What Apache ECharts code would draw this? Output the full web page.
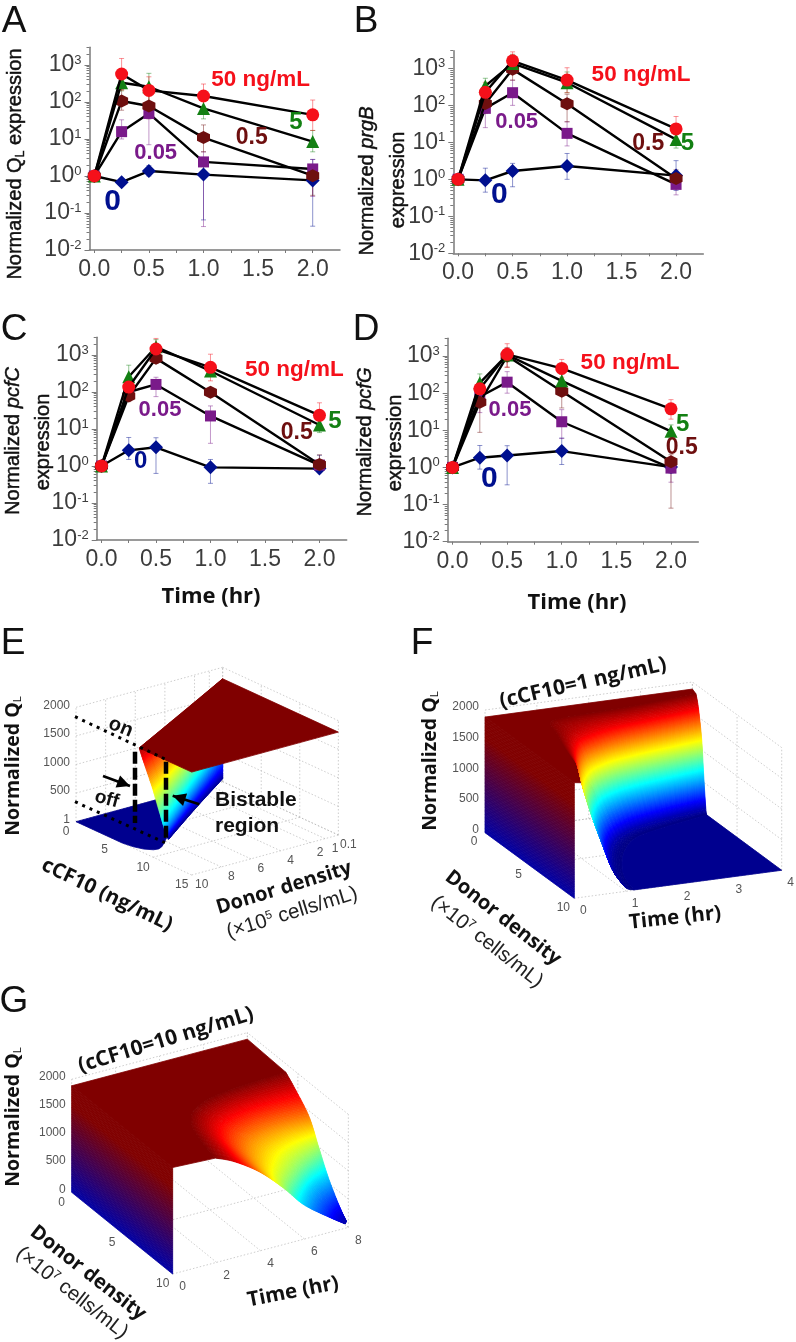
<!DOCTYPE html>
<html><head><meta charset="utf-8">
<style>html,body{margin:0;padding:0;background:#fff}#c{width:796px;height:1342px}</style>
<script src="https://cdn.jsdelivr.net/npm/echarts@6/dist/echarts.min.js"></script>
</head><body><div id="c"></div>
<script>
// ---------- line panels: data ----------
const times=[0,0.25,0.5,1,2];
const yTicks=[0.01,0.1,1,10,100,1000];
const xLabelTicks=[0,0.5,1,1.5,2];
const xTickMarks=[0,0.25,0.5,0.75,1,1.25,1.5,1.75,2];
const yMinorTicks=[0.02,0.03,0.04,0.05,0.06,0.07,0.08,0.09,0.2,0.3,0.4,0.5,0.6,0.7,0.8,0.9,2,3,4,5,6,7,8,9,20,30,40,50,60,70,80,90,200,300,400,500,600,700,800,900,2000,3000];

const A_0=[1,0.68,1.36,1.09,0.76],   A_0_hi=[1.3,null,1.9,2.5,2.8],      A_0_lo=[0.75,null,1,0.065,0.044];
const A_p05=[1,15.8,49,2.4,1.55],    A_p05_hi=[1.3,33,100,4.5,2.8],      A_p05_lo=[0.75,10,7,0.043,0.28];
const A_p5=[1,106,78,10.9,1.02],     A_p5_hi=[1.3,220,180,24,1.5],       A_p5_lo=[0.75,60,35,4.5,0.3];
const A_5=[1,332,258,67,8.5],        A_5_hi=[1.3,500,595,130,17],        A_5_lo=[0.75,200,100,35,4.5];
const A_50=[1,570,206,145,45],       A_50_hi=[1.3,1500,480,306,113],     A_50_lo=[0.75,210,90,70,17];

const B_0=[1,0.94,1.68,2.3,1.26],    B_0_hi=[1.3,2,2.7,5,3.2],           B_0_lo=[0.75,0.45,0.63,1,0.5];
const B_p05=[1,83,220,17.5,0.73],    B_p05_hi=[1.3,180,480,36,1.2],      B_p05_lo=[0.75,25,100,8,0.38];
const B_p5=[1,113,940,111,1.06],     B_p5_hi=[1.3,190,1900,200,1.8],     B_p5_lo=[0.75,60,480,36,0.6];
const B_5=[1,333,1365,410,12],       B_5_hi=[1.3,540,2400,800,20],       B_5_lo=[0.75,200,800,220,7];
const B_50=[1,225,1600,484,23],      B_50_hi=[1.3,420,2800,1040,50],     B_50_lo=[0.75,120,900,220,9.4];

const C_0=[1,2.65,3.2,0.92,0.85],    C_0_hi=[1.3,5.9,5.8,1.5,1.95],      C_0_lo=[0.75,1.5,0.63,0.34,0.7];
const C_p05=[1,100,160,22.5,1.06],   C_p05_hi=[1.3,150,250,42,1.4],      C_p05_lo=[0.75,60,75,4.1,0.8];
const C_p5=[1,78,810,98,1.09],       C_p5_hi=[1.3,110,1100,130,2],       C_p5_lo=[0.75,55,600,75,0.7];
const C_5=[1,258,1670,370,12.8],     C_5_hi=[1.3,530,2600,500,20],       C_5_lo=[0.75,130,1000,270,8];
const C_50=[1,136,1450,465,23.4],    C_50_hi=[1.3,220,2800,1050,51],     C_50_lo=[0.75,85,800,200,11];

const D_0=[1,1.83,2.1,2.76,1.02],    D_0_hi=[1.3,3.9,3.85,6.2,1.4],      D_0_lo=[0.75,0.9,0.34,1.2,0.7];
const D_p05=[1,80,198,17,0.96],      D_p05_hi=[1.3,160,380,36,1.5],      D_p05_lo=[0.75,30,100,6,0.4];
const D_p5=[1,57,1000,113,1.42],     D_p5_hi=[1.3,110,1700,330,2.2],     D_p5_lo=[0.75,8.8,500,40,0.08];
const D_5=[1,190,1070,215,9.4],      D_5_hi=[1.3,330,1500,350,14],       D_5_lo=[0.75,100,700,130,6];
const D_50=[1,131,1110,465,38],      D_50_hi=[1.3,200,2150,810,67],      D_50_lo=[0.75,60,500,270,20];

// ---------- 3D panels: iso-level contours ----------
const ticksEc=[0,5,10,15], ticksEd=[10,8,6,4,2,1,0.1], ticksEz=[1,500,1000,1500,2000];
const E_levels=[1800,1650,1175,600,50];
const E_c=[[8.2,4.1,0],[8.6,4.3,0],[10,5,0],[11.2,6,0],[8.1,3.7,0]];
const E_d=[[10,5,0.1],[10,5,0.1],[10,5,0.1],[9.9,5.4,0.1],[7.97,3.76,0.1]];
const E_topC=[8.2,15,15,0], E_topD=[10,10,0.1,0.1], E_topQ=1800;
const E_offC=[0,3.1,6,7.2,8.1,8.7,8.8,8.6,8.3,7.3,0], E_offD=[10,10,10,9.87,9.65,9.3,9,8.7,8.45,7.7,4.6];

const ticksFt=[0,1,2,3,4], ticksFd=[0,5,10], ticksFz=[0,500,1000,1500,2000];
const F_levels=[1850,1650,1175,600,100,5];
const F_t=[[0.28,0.41,0.65,0.86,0.99,1.3,2,2.7,4],[0.4,0.55,0.85,1.25,1.7,2.2,2.8,3.4,4],[0.51,0.68,1,1.45,1.95,2.4,2.9,3.4,4],[0.68,0.88,1.2,1.65,2.1,2.55,3,3.5,4],[0.95,1.1,1.45,1.85,2.25,2.65,3.1,3.5,4],[1.15,1.3,1.65,2.05,2.4,2.8,3.2,3.6,4]];
const F_d=[[10,8.7,5.4,3.05,1.6,1.2,1.05,0.9,0.4],[10,8,5.2,3,2.1,1.6,1.3,1,0.67],[10,8,5.2,3.2,2.3,1.9,1.6,1.35,1.04],[10,8,5.4,3.5,2.6,2.15,1.85,1.55,1.27],[10,8,5.6,3.9,3,2.5,2.1,1.8,1.5],[10,8,5.8,4.1,3.2,2.7,2.3,1.95,1.6]];
const F_topQ=1885;

const ticksGt=[0,2,4,6,8], ticksGd=[0,5,10], ticksGz=[0,500,1000,1500,2000];
const G_levels=[1850,1700,1400,1000,600,250,80];
const G_t=[[1.95,2.2,2.6,3.3,4.5,6,8],[2.8,3,3.3,3.9,5,6.4,8],[3.95,4.1,4.4,4.9,5.7,6.8,8],[5.05,5.4,5.95,6.5,7,7.5,8],[6,6.25,6.6,6.95,7.3,7.65,8],[7.2,7.3,7.45,7.6,7.75,7.9,8],[7.85,7.87,7.9,7.92,7.95,7.97,8]];
const G_d=[[10,8,6.2,5,4.3,4,3.8],[10,8.3,6.8,5.6,4.95,4.7,4.66],[10,8.8,7.6,6.7,6.2,6,6.1],[10,9.3,8.6,8,7.6,7.3,7.05],[10,9.6,9.1,8.7,8.4,8.2,8],[10,9.85,9.65,9.45,9.3,9.2,9.1],[10,9.97,9.93,9.9,9.87,9.84,9.8]];
const G_topQ=1885;

// ---------- helpers ----------
const SANS='"Liberation Sans",Arial,sans-serif', BOLD3D='"Open Sans",sans-serif';
const COLORS=['#00108f','#7a1a8a','#6e0f0f','#138013','#f5101a'];
const HEX='path://M0,-10 L8.66,-5 L8.66,5 L0,10 L-8.66,5 L-8.66,-5 Z';
const SYMBOLS=['diamond','rect',HEX,'triangle','circle'];
const SIZES=[14,11,13,13,13];
const lin=[
 {left:89.5,top:47.3,width:250.5,height:202.7,sets:[[A_0,A_0_hi,A_0_lo],[A_p05,A_p05_hi,A_p05_lo],[A_p5,A_p5_hi,A_p5_lo],[A_5,A_5_hi,A_5_lo],[A_50,A_50_hi,A_50_lo]]},
 {left:453.3,top:50.7,width:250,height:202.6,sets:[[B_0,B_0_hi,B_0_lo],[B_p05,B_p05_hi,B_p05_lo],[B_p5,B_p5_hi,B_p5_lo],[B_5,B_5_hi,B_5_lo],[B_50,B_50_hi,B_50_lo]]},
 {left:96.7,top:337.3,width:250,height:202.7,sets:[[C_0,C_0_hi,C_0_lo],[C_p05,C_p05_hi,C_p05_lo],[C_p5,C_p5_hi,C_p5_lo],[C_5,C_5_hi,C_5_lo],[C_50,C_50_hi,C_50_lo]]},
 {left:447.7,top:338.3,width:250.6,height:203.4,sets:[[D_0,D_0_hi,D_0_lo],[D_p05,D_p05_hi,D_p05_lo],[D_p5,D_p5_hi,D_p5_lo],[D_5,D_5_hi,D_5_lo],[D_50,D_50_hi,D_50_lo]]}
];
const grid=[],xAxis=[],yAxis=[],series=[];
const AX='#7a7a7a';
lin.forEach((p,i)=>{
  grid.push({left:p.left,top:p.top,width:p.width,height:p.height});
  xAxis.push({type:'value',gridIndex:i,min:-0.044,max:2.25,splitLine:{show:false},
    axisLine:{onZero:false,lineStyle:{color:AX,width:1.5}},
    axisTick:{customValues:xTickMarks,length:3,lineStyle:{color:AX}},
    axisLabel:{customValues:xLabelTicks,margin:8,fontSize:23,fontFamily:SANS,color:'#3c3c3c',formatter:v=>v.toFixed(1)}});
  yAxis.push({type:'log',logBase:10,gridIndex:i,min:0.01,max:3006,splitLine:{show:false},
    axisLine:{onZero:false,lineStyle:{color:AX,width:1.5}},
    axisTick:{customValues:yTicks,length:5,lineStyle:{color:AX}},
    axisLabel:{customValues:yTicks,margin:8,fontFamily:SANS,color:'#3c3c3c',
      formatter:v=>'{a|10}{b|'+Math.round(Math.log10(v))+'}',
      rich:{a:{fontSize:23,fontFamily:SANS,color:'#3c3c3c'},b:{fontSize:13,fontFamily:SANS,color:'#3c3c3c',verticalAlign:'top',padding:[0,0,0,0]}}}});
  yAxis.push({type:'log',logBase:10,gridIndex:i,min:0.01,max:3006,splitLine:{show:false},position:'left',
    axisLine:{show:false,onZero:false},axisLabel:{show:false},
    axisTick:{customValues:yMinorTicks,length:3,lineStyle:{color:AX}}});
  p.sets.forEach((s,k)=>{
    const bars=[];
    times.forEach((t,j)=>{ if(s[1][j]!=null) bars.push([t,s[2][j],s[1][j]]); });
    series.push({type:'custom',xAxisIndex:i,yAxisIndex:i*2,data:bars,z:2,silent:true,animation:false,clip:false,
      encode:{x:0,y:[1,2]},
      renderItem:(ctx,api)=>{
        const a=api.coord([api.value(0),api.value(1)]),b=api.coord([api.value(0),api.value(2)]);
        const st={stroke:COLORS[k],lineWidth:0.9,opacity:0.5,fill:null};
        return {type:'group',children:[
          {type:'line',shape:{x1:a[0],y1:a[1],x2:b[0],y2:b[1]},style:st},
          {type:'line',shape:{x1:a[0]-2.5,y1:a[1],x2:a[0]+2.5,y2:a[1]},style:st},
          {type:'line',shape:{x1:b[0]-2.5,y1:b[1],x2:b[0]+2.5,y2:b[1]},style:st}]};
      }});
  });
  p.sets.forEach((s,k)=>{
    series.push({type:'line',xAxisIndex:i,yAxisIndex:i*2,z:3+k,animation:false,silent:true,clip:false,
      data:times.map((t,j)=>[t,s[0][j]]),
      lineStyle:{color:'#000',width:2.4},symbol:SYMBOLS[k],symbolSize:SIZES[k],
      itemStyle:{color:COLORS[k],borderWidth:0},showSymbol:true});
  });
});

// ---------- 3D ----------
const jet=v=>{const c=x=>Math.round(255*Math.max(0,Math.min(1,x)));
  v=Math.max(0,Math.min(1,v));
  return 'rgb('+c(1.5-Math.abs(4*v-3))+','+c(1.5-Math.abs(4*v-2))+','+c(1.5-Math.abs(4*v-1))+')';};
const wallColor=f=>{const h=Math.min(1,f/0.82),r=Math.round(128*h),b=Math.round(165*(1-h));return 'rgb('+r+',0,'+b+')';};
const pE=(u,v,z)=>[76+7.711*u-14.815*(v-10),821.67+3.556*u+4.04*(v-10)-z*0.05717];
const pF=(u,v,z)=>[485+51.85*u+8.93*v,832.67-7*u+6.56*v-z*0.06133];
const pG=(u,v,z)=>[71.67+21.96*u+10.1*v,1192.3-5.83*u+8.17*v-z*0.0565];
function box(items,P,uT,vT,zT,uW,vW,uF,vF,zM){
  const L=(a,b)=>items.push({k:'l',a,b});
  uT.forEach(u=>{L(P(u,vF,0),P(u,vW,0));L(P(u,vW,0),P(u,vW,zM));});
  vT.forEach(v=>{L(P(uF,v,0),P(uW,v,0));L(P(uW,v,0),P(uW,v,zM));});
  zT.forEach(z=>{L(P(uF,vW,z),P(uW,vW,z));L(P(uW,vF,z),P(uW,vW,z));});
}
// smooth drawing of a contour table between the values
const cr=(a,b,c,d,t)=>0.5*(2*b+(c-a)*t+(2*a-5*b+4*c-d)*t*t+(3*b-a-3*c+d)*t*t*t);
const col=(row,g)=>{const n=row.length-1;let j=Math.min(n-1,Math.floor(g));const t=g-j;
  return cr(row[Math.max(0,j-1)],row[j],row[j+1],row[Math.min(n,j+2)],t);};
const mesh=(A,f,g)=>{const n=A.length-1;let i=Math.min(n-1,Math.floor(f));const t=f-i;
  return cr(col(A[Math.max(0,i-1)],g),col(A[i],g),col(A[i+1],g),col(A[Math.min(n,i+2)],g),t);};
function band(items,P,lev,U,V,norm){
  const n=U[0].length-1,m=lev.length-1,sub=4;
  for(let i=0;i<m;i++){
    const rows=Math.max(2,Math.round(Math.abs(lev[i]-lev[i+1])/14));
    for(let r=0;r<rows;r++){
      const f0=i+r/rows,f1=i+(r+1)/rows;
      const q0=col(lev,f0),q1=col(lev,f1);
      for(let s=n*sub-1;s>=0;s--){
        const g0=s/sub,g1=(s+1)/sub;
        const at=(f,g,q)=>P(mesh(U,f,g),mesh(V,f,g),q);
        items.push({k:'p',pts:[at(f0,g0,q0),at(f0,g1,q0),at(f1,g1,q1),at(f1,g0,q1)],c:jet((q0+q1)/2/norm)});
      }
    }
  }
}
const curve=(P,U,V,i,q)=>{const n=U[0].length-1,out=[];
  for(let s=0;s<=n*5;s++){const g=s/5;out.push(P(col(U[i],g),col(V[i],g),q));}
  return out;};
function wall(items,P,u,v0,v1,zM){
  const rows=48;
  for(let r=0;r<rows;r++){
    const z0=zM*r/rows,z1=zM*(r+1)/rows;
    items.push({k:'p',pts:[P(u,v0,z0),P(u,v1,z0),P(u,v1,z1),P(u,v0,z1)],c:wallColor((r+0.5)/rows)});
  }
}
function labels(items,P,vals,fn,dx,dy,align,txt){
  vals.forEach(v=>{const q=fn(v);items.push({k:'t',x:q[0]+dx,y:q[1]+dy,t:txt?txt(v):String(v),al:align});});
}
const itemsE=[],itemsF=[],itemsG=[];
// panel E
box(itemsE,pE,ticksEc,ticksEd,ticksEz,0,0.1,15,10,2000);
labels(itemsE,pE,ticksEz,z=>pE(0,10,z),-6,-2,'right');
labels(itemsE,pE,ticksEc,c=>pE(c,10,0),-10,10,'center');
labels(itemsE,pE,ticksEd,d=>pE(15,d,0),10,10,'center');
itemsE.push({k:'p',pts:E_offC.map((c,i)=>pE(c,E_offD[i],0)),c:'#00008f'});
band(itemsE,pE,E_levels,E_c,E_d,1850);
itemsE.push({k:'p',pts:E_topC.map((c,i)=>pE(c,E_topD[i],E_topQ)),c:'#800000'});
// panel F
box(itemsF,pF,ticksFt,ticksFd,ticksFz,4,0,0,10,2000);
labels(itemsF,pF,ticksFz,z=>pF(0,0,z),-6,-3,'right');
labels(itemsF,pF,ticksFd,d=>pF(0,d,0),-11,9,'center');
labels(itemsF,pF,ticksFt,t=>pF(t,10,0),9,12,'center');
itemsF.push({k:'p',pts:[pF(0,0,F_topQ),pF(4,0,F_topQ)].concat(curve(pF,F_t,F_d,0,1850).reverse(),[pF(0,10,F_topQ)]),c:'#800000'});
band(itemsF,pF,F_levels,F_t,F_d,1850);
itemsF.push({k:'p',pts:curve(pF,F_t,F_d,5,5).concat([pF(4,10,0)]),c:'#00008f'});
wall(itemsF,pF,0,0,10,F_topQ);
// panel G
box(itemsG,pG,ticksGt,ticksGd,ticksGz,8,0,0,10,2000);
labels(itemsG,pG,ticksGz,z=>pG(0,0,z),-6,-3,'right');
labels(itemsG,pG,ticksGd,d=>pG(0,d,0),-10,10,'center');
labels(itemsG,pG,ticksGt,t=>pG(t,10,0),10,13,'center');
itemsG.push({k:'p',pts:[pG(0,0,G_topQ),pG(8,0,G_topQ)].concat(curve(pG,G_t,G_d,0,1850).reverse(),[pG(0,10,G_topQ)]),c:'#800000'});
band(itemsG,pG,G_levels,G_t,G_d,1850);
wall(itemsG,pG,0,0,10,G_topQ);

const gi=lin.length;
grid.push({left:0,top:0,width:796,height:1342});
xAxis.push({type:'value',gridIndex:gi,min:0,max:796,show:false});
yAxis.push({type:'value',gridIndex:gi,min:0,max:1342,inverse:true,show:false});
const yi=yAxis.length-1;
[itemsE,itemsF,itemsG].forEach(items=>{
  series.push({type:'custom',xAxisIndex:gi,yAxisIndex:yi,z:1,silent:true,animation:false,clip:false,progressive:0,
    data:items.map((_,i)=>[i]),encode:{x:0},
    renderItem:(ctx,api)=>{
      const it=items[api.value(0)],C=p=>api.coord(p);
      if(it.k==='p') return {type:'polygon',shape:{points:it.pts.map(C)},style:{fill:it.c,stroke:it.c,lineWidth:0.8}};
      if(it.k==='l'){const a=C(it.a),b=C(it.b);return {type:'line',shape:{x1:a[0],y1:a[1],x2:b[0],y2:b[1]},style:{stroke:'#b8b8b8',lineWidth:0.7,lineDash:[1.5,2],fill:null}};}
      const q=C([it.x,it.y]);
      return {type:'text',x:q[0],y:q[1],style:{text:it.t,fontSize:12,fontFamily:SANS,fill:'#555',align:it.al,verticalAlign:'middle'}};
    }});
});

// ---------- text and annotations ----------
const g=[];
const T=(text,x,y,size,rot,o)=>g.push({type:'text',x,y,rotation:(rot||0)*Math.PI/180,z:50,silent:true,
  style:Object.assign({text,fontSize:size,fontFamily:SANS,fill:'#111',align:'center',verticalAlign:'middle'},o||{})});
[['A',14,22],['B',366,22],['C',14,330],['D',366,330],['E',13,644],['F',422,644],['G',14,1002]].forEach(a=>T(a[0],a[1],a[2],37,0,{fill:'#111'}));
const HV={stroke:'#111',lineWidth:0.45};
const N=Object.assign({rich:{s:{fontSize:12,verticalAlign:'bottom',padding:[11,0,0,0],fontFamily:SANS,fill:'#111'},
  i:{fontStyle:'italic',fontSize:20,fontFamily:SANS,fill:'#111',stroke:'#111',lineWidth:0.45}}},HV);
T('Normalized Q{s|L} expression',15,164,20,90,N);
T('Normalized {i|prgB}',367,181,20,90,N);T('expression',398,180,20,90,HV);
T('Normalized {i|pcfC}',13,441,20,90,N);T('expression',43,442,20,90,HV);
T('Normalized {i|pcfG}',365,442,20,90,N);T('expression',395,443,20,90,HV);
const lab=(rows)=>rows.forEach(r=>T(r[0],r[1],r[2],r[3],0,{fill:COLORS[r[4]],fontWeight:'bold'}));
lab([['50 ng/mL',260.7,80,22.5,4],['5',296,122.7,24,3],['0.5',251.7,138,23,2],['0.05',155.7,153,22,1],['0',112.7,201.7,30,0],
 ['50 ng/mL',641,75,22.5,4],['0.05',516.7,121.7,22,1],['0.5',648.3,144,23,2],['5',687.3,143.3,24,3],['0',499.3,195,30,0],
 ['50 ng/mL',294.3,370,22.5,4],['0.05',160,410,22,1],['0.5',296.7,432.7,23,2],['5',335,421.7,24,3],['0',140.7,461.7,24,0],
 ['50 ng/mL',630,362.7,22.5,4],['0.05',510,410,22,1],['5',682.7,424.3,24,3],['0.5',681.7,447.3,23,2],['0',489.3,478.3,30,0]]);
const B3={fontFamily:BOLD3D,fontWeight:'bold',fill:'#111'};
T('Time (hr)',211,597,22,0,B3);T('Time (hr)',577,603,22,0,B3);
const QR={rich:{s:{fontSize:11,verticalAlign:'bottom',padding:[10,0,0,0],fontFamily:SANS,fill:'#111'}},fontWeight:'bold',fontFamily:BOLD3D,fill:'#111'};
const CL={fontFamily:'"Liberation Sans",sans-serif',fill:'#222',rich:{u:{fontSize:12,verticalAlign:'top',fontFamily:SANS,fill:'#222'}}};
T('Normalized Q{s|L}',13,766,19.5,90,QR);T('Normalized Q{s|L}',430,761,19.5,90,QR);T('Normalized Q{s|L}',13,1117,19.5,90,QR);
T('cCF10 (ng/mL)',107,895,20.5,-25.7,B3);T('Donor density',284,888,20,17,B3);T('(×10{u|5} cells/mL)',292,913,20.5,17,CL);
T('(cCF10=1 ng/mL)',583,683,21,12.8,B3);T('Time (hr)',675,918,20.5,6,B3);T('Donor density',503,918,20,-38,B3);T('(×10{u|7} cells/mL)',487,942,20.5,-38,CL);
T('(cCF10=10 ng/mL)',166,1040,21,17,B3);T('Time (hr)',293,1292,20.5,11,B3);T('Donor density',88,1273,20,-38,B3);T('(×10{u|7} cells/mL)',72,1293,20.5,-38,CL);
T('on',120.7,727.3,20,-22,{fontWeight:'bold'});T('off',106.7,799.3,19,-15,{fontWeight:'bold'});
T('Bistable',215,800,21,0,{fontWeight:'bold',align:'left'});T('region',215,826,21,0,{fontWeight:'bold',align:'left'});
const LN=(x1,y1,x2,y2,w,dash)=>g.push({type:'line',z:40,silent:true,shape:{x1,y1,x2,y2},style:{stroke:'#000',lineWidth:w,lineDash:dash,fill:null}});
LN(75,716.7,165.7,759.3,3,[3,5]);LN(75,801.7,165,842.7,3,[3,5]);
LN(135,751.7,135,823,4.5,[12,4]);LN(166,761.7,166,841,4.5,[12,4]);
const AR=(x1,y1,x2,y2)=>{LN(x1,y1,x2,y2,2.5);
  const a=Math.atan2(y2-y1,x2-x1),L=13,W=6.5,bx=x2-L*Math.cos(a),by=y2-L*Math.sin(a),nx=-Math.sin(a)*W,ny=Math.cos(a)*W;
  g.push({type:'polygon',z:41,silent:true,shape:{points:[[x2,y2],[bx+nx,by+ny],[bx-nx,by-ny]]},style:{fill:'#000'}});};
AR(103,776,130,786);AR(199.3,804.3,172.7,795.7);

const chart=echarts.init(document.getElementById('c'),null,{renderer:'canvas'});
chart.setOption({animation:false,backgroundColor:'#fff',grid,xAxis,yAxis,series,graphic:g});
</script></body></html>
